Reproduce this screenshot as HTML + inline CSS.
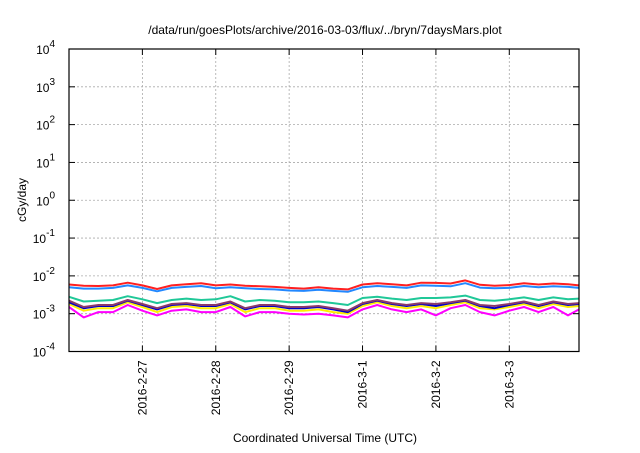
<!DOCTYPE html>
<html><head><meta charset="utf-8"><style>
body{margin:0;background:#fff;}
svg text{font-family:"Liberation Sans",sans-serif;font-size:12px;fill:#000;}
</style></head><body>
<svg id="chart" width="640" height="448" xmlns="http://www.w3.org/2000/svg">
<text x="325" y="34" text-anchor="middle">/data/run/goesPlots/archive/2016-03-03/flux/../bryn/7daysMars.plot</text>
<text transform="translate(26,200) rotate(-90)" text-anchor="middle">cGy/day</text>
<text x="325" y="442" text-anchor="middle">Coordinated Universal Time (UTC)</text>
<g id="grid"></g><g id="series"></g><g id="axes"></g>
</svg>
<script>
const dayLabels=["2016-2-27","2016-2-28","2016-2-29","2016-3-1","2016-3-2","2016-3-3"];
const yExps=[-4,-3,-2,-1,0,1,2,3,4];
const times=[0,0.2,0.4,0.6,0.8,1.0,1.2,1.4,1.6,1.8,2.0,2.2,2.4,2.6,2.8,3.0,3.2,3.4,3.6,3.8,4.0,4.2,4.4,4.6,4.8,5.0,5.2,5.4,5.6,5.8,6.0,6.2,6.4,6.6,6.8,6.95];
const redVals=[5.9e-3,5.5e-3,5.4e-3,5.6e-3,6.6e-3,5.6e-3,4.5e-3,5.6e-3,6.0e-3,6.4e-3,5.6e-3,5.9e-3,5.5e-3,5.3e-3,5.1e-3,4.8e-3,4.6e-3,5.0e-3,4.6e-3,4.4e-3,5.9e-3,6.4e-3,6.0e-3,5.6e-3,6.6e-3,6.5e-3,6.3e-3,7.6e-3,5.8e-3,5.5e-3,5.7e-3,6.4e-3,5.9e-3,6.3e-3,6.0e-3,5.6e-3];
const blueVals=[5.0e-3,4.6e-3,4.6e-3,4.8e-3,5.6e-3,4.8e-3,3.9e-3,4.8e-3,5.1e-3,5.4e-3,4.7e-3,5.0e-3,4.7e-3,4.5e-3,4.4e-3,4.1e-3,4.0e-3,4.3e-3,4.0e-3,3.8e-3,5.0e-3,5.4e-3,5.1e-3,4.8e-3,5.6e-3,5.5e-3,5.3e-3,6.4e-3,4.9e-3,4.7e-3,4.8e-3,5.4e-3,5.0e-3,5.3e-3,5.1e-3,4.8e-3];
const greenVals=[2.8e-3,2.1e-3,2.2e-3,2.3e-3,2.9e-3,2.4e-3,1.9e-3,2.3e-3,2.5e-3,2.3e-3,2.4e-3,2.9e-3,2.1e-3,2.3e-3,2.2e-3,2.0e-3,2.0e-3,2.1e-3,1.9e-3,1.7e-3,2.6e-3,2.8e-3,2.5e-3,2.3e-3,2.6e-3,2.6e-3,2.7e-3,3.0e-3,2.3e-3,2.2e-3,2.4e-3,2.7e-3,2.3e-3,2.7e-3,2.4e-3,2.5e-3];
const purpleVals=[2.2e-3,1.5e-3,1.7e-3,1.7e-3,2.3e-3,1.8e-3,1.4e-3,1.8e-3,1.9e-3,1.7e-3,1.7e-3,2.1e-3,1.4e-3,1.7e-3,1.7e-3,1.5e-3,1.5e-3,1.6e-3,1.4e-3,1.2e-3,1.9e-3,2.3e-3,1.9e-3,1.7e-3,1.9e-3,1.8e-3,2.0e-3,2.3e-3,1.7e-3,1.6e-3,1.8e-3,2.1e-3,1.7e-3,2.1e-3,1.8e-3,1.9e-3];
const navyVals=[2.0e-3,1.4e-3,1.6e-3,1.6e-3,2.2e-3,1.7e-3,1.3e-3,1.7e-3,1.8e-3,1.6e-3,1.6e-3,2.0e-3,1.3e-3,1.6e-3,1.6e-3,1.4e-3,1.4e-3,1.5e-3,1.3e-3,1.1e-3,1.8e-3,2.2e-3,1.8e-3,1.6e-3,1.8e-3,1.6e-3,1.9e-3,2.2e-3,1.6e-3,1.4e-3,1.7e-3,2.0e-3,1.6e-3,2.0e-3,1.7e-3,1.8e-3];
const yellowVals=[1.8e-3,1.2e-3,1.4e-3,1.4e-3,2.0e-3,1.5e-3,1.1e-3,1.5e-3,1.6e-3,1.4e-3,1.4e-3,1.8e-3,1.1e-3,1.4e-3,1.4e-3,1.2e-3,1.2e-3,1.3e-3,1.1e-3,1.0e-3,1.6e-3,2.0e-3,1.6e-3,1.4e-3,1.6e-3,1.4e-3,1.7e-3,2.0e-3,1.4e-3,1.3e-3,1.5e-3,1.8e-3,1.4e-3,1.8e-3,1.5e-3,1.6e-3];
const magentaVals=[1.5e-3,8.0e-4,1.1e-3,1.1e-3,1.7e-3,1.2e-3,9.0e-4,1.2e-3,1.3e-3,1.1e-3,1.1e-3,1.5e-3,8.5e-4,1.1e-3,1.1e-3,1.0e-3,9.5e-4,1.0e-3,9.0e-4,8.0e-4,1.3e-3,1.7e-3,1.3e-3,1.1e-3,1.3e-3,9.0e-4,1.4e-3,1.7e-3,1.1e-3,9.0e-4,1.2e-3,1.5e-3,1.1e-3,1.5e-3,9.0e-4,1.3e-3];
const seriesList=[["magenta",magentaVals,"#ff00ff"],["yellow",yellowVals,"#ffee00"],["navy",navyVals,"#0000cc"],["purple",purpleVals,"#8b3a6b"],["green",greenVals,"#20c898"],["blue",blueVals,"#2288ff"],["red",redVals,"#ff2020"]];
const L=69,R=579,T=49,B=351.5;
const X=t=>L+(R-L)*t/6.95;
const Y=v=>B-(B-T)*(Math.log10(v)+4)/8;
const NS="http://www.w3.org/2000/svg";
function mk(tag,attrs,parent){const e=document.createElementNS(NS,tag);for(const k in attrs)e.setAttribute(k,attrs[k]);document.getElementById(parent).appendChild(e);return e;}
yExps.forEach(ex=>{const y=Y(Math.pow(10,ex));
 if(ex>-4&&ex<4){const g=mk("line",{x1:L,x2:R,y1:y,y2:y,stroke:"#aaa","stroke-dasharray":"2,2","stroke-width":"0.8"},"grid");
 
 }
 const t1=mk("line",{x1:L,x2:L+6,y1:y,y2:y,stroke:"#000"},"axes");
 
 
 const t2=mk("line",{x1:R-6,x2:R,y1:y,y2:y,stroke:"#000"},"axes");
 
 
 const tx=mk("text",{x:55,y:y+5,"text-anchor":"end","font-size":"14"},"axes");
 
 
 tx.innerHTML='10<tspan dy="-7" font-size="10">'+ex+'</tspan>';
});
dayLabels.forEach((lab,i)=>{const x=X(i+1);
 const g=mk("line",{x1:x,x2:x,y1:T,y2:B,stroke:"#aaa","stroke-dasharray":"2,2","stroke-width":"0.8"},"grid");
 
 
 const t1=mk("line",{x1:x,x2:x,y1:B-6,y2:B,stroke:"#000"},"axes");
 
 
 const t2=mk("line",{x1:x,x2:x,y1:T,y2:T+6,stroke:"#000"},"axes");
 
 
 const tx=mk("text",{transform:"translate("+(x+4)+","+(B+9)+") rotate(-90)","text-anchor":"end"},"axes");
 
 
 tx.textContent=lab;
});
const frame=mk("rect",{x:L,y:T,width:R-L,height:B-T,fill:"none",stroke:"#000","stroke-width":"1.2"},"axes");


seriesList.forEach(s=>{
 const d=s[1].map((v,i)=>(i?"L":"M")+X(times[i]).toFixed(1)+","+Y(v).toFixed(1)).join("");
 const p=mk("path",{d:d,fill:"none",stroke:s[2],"stroke-width":"2","stroke-linejoin":"round"},"series");
 
 
});
</script>
</body></html>
